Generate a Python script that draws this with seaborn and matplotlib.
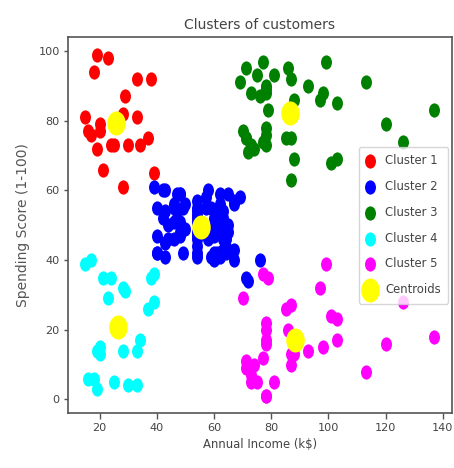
import matplotlib
matplotlib.use("Agg")
import matplotlib.pyplot as plt
from matplotlib import font_manager
from matplotlib.path import Path
from matplotlib.transforms import Affine2D
import seaborn as sns

# Mall customers: annual income (k$) and spending score, split by K-means cluster
c1_income = [15, 16, 17, 18, 19, 19, 20, 20, 21, 23, 24, 25, 28, 28, 29, 30, 33, 33, 34, 37, 38, 39]
c1_score = [81, 77, 76, 94, 72, 99, 77, 79, 66, 98, 73, 73, 82, 61, 87, 73, 92, 81, 73, 75, 92, 65]

c2_income = [39, 40, 40, 40, 40, 42, 42, 43, 43, 43, 43, 44, 44, 46, 46, 46, 46, 47, 47,
             48, 48, 48, 48, 48, 48, 49, 49, 50, 50, 54, 54, 54, 54, 54, 54, 54, 54, 54,
             54, 54, 54, 57, 57, 58, 58, 59, 59, 60, 60, 60, 60, 60, 60, 61, 61, 62, 62,
             62, 62, 62, 62, 63, 63, 63, 63, 63, 63, 64, 64, 65, 65, 65, 65, 67, 67, 67,
             67, 69, 71, 72, 76]
c2_score = [61, 55, 47, 42, 42, 52, 60, 54, 60, 45, 41, 50, 46, 51, 46, 56, 55, 52, 59,
            51, 59, 50, 48, 59, 47, 55, 42, 49, 56, 47, 54, 53, 48, 52, 42, 51, 55, 41,
            44, 57, 46, 58, 55, 60, 46, 55, 41, 49, 40, 42, 52, 47, 50, 42, 49, 41, 48,
            59, 55, 56, 42, 50, 46, 43, 48, 52, 54, 42, 46, 48, 50, 43, 59, 43, 57, 56,
            40, 58, 35, 34, 40]

c3_income = [69, 70, 71, 71, 71, 72, 73, 73, 74, 75, 76, 77, 77, 78, 78, 78, 78, 78, 78,
             79, 81, 85, 86, 87, 87, 87, 88, 88, 93, 97, 98, 99, 101, 103, 103, 113, 120,
             126, 137]
c3_score = [91, 77, 95, 75, 75, 71, 88, 73, 72, 93, 87, 97, 74, 90, 88, 76, 89, 78, 73,
            83, 93, 75, 95, 63, 75, 92, 86, 69, 90, 86, 88, 97, 68, 85, 69, 91, 79, 74, 83]

c4_income = [15, 16, 17, 18, 19, 19, 20, 20, 21, 23, 24, 25, 28, 28, 29, 30, 33, 33, 34, 37, 38, 39, 39]
c4_score = [39, 6, 40, 6, 3, 14, 15, 13, 35, 29, 35, 5, 14, 32, 31, 4, 4, 14, 17, 26, 35, 36, 28]

c5_income = [70, 71, 71, 73, 73, 74, 75, 77, 77, 78, 78, 78, 78, 78, 78, 79, 81, 85, 86,
             87, 87, 87, 88, 88, 93, 97, 98, 99, 101, 103, 103, 113, 120, 126, 137]
c5_score = [29, 11, 9, 5, 7, 10, 5, 12, 36, 22, 17, 20, 16, 1, 1, 35, 5, 26, 20, 27, 13,
            10, 13, 15, 14, 32, 15, 39, 24, 17, 23, 8, 16, 28, 18]

centroid_income = [25.73, 55.30, 86.54, 26.30, 88.20]
centroid_score = [79.36, 49.52, 82.13, 20.91, 17.11]

clusters = [
    (c1_income, c1_score, "red", "Cluster 1"),
    (c2_income, c2_score, "blue", "Cluster 2"),
    (c3_income, c3_score, "green", "Cluster 3"),
    (c4_income, c4_score, "cyan", "Cluster 4"),
    (c5_income, c5_score, "magenta", "Cluster 5"),
]

# Narrow face for horizontal text; fall back to a smaller DejaVu if missing
installed = {f.name for f in font_manager.fontManager.ttflist}
if "Liberation Sans Narrow" in installed:
    text_font, k = "Liberation Sans Narrow", 1.0
else:
    text_font, k = "DejaVu Sans", 0.74
text_color = "#444444"

# Slightly upright oval markers
oval = Path.unit_circle().transformed(Affine2D().scale(0.77, 1.0))

fig = plt.figure(figsize=(4.54, 4.68), dpi=100)
ax = fig.add_axes([0.1498, 0.1175, 0.845, 0.8024])

for xs, ys, col, lab in clusters:
    sns.scatterplot(x=xs, y=ys, color=col, s=105, marker=oval, linewidth=0,
                    label=lab, ax=ax)
sns.scatterplot(x=centroid_income, y=centroid_score, color="yellow", s=300,
                marker=oval, linewidth=0, label="Centroids", ax=ax)

ax.set_title("Clusters of customers", fontsize=13.5 * k, family=text_font,
             color=text_color, pad=6)
ax.set_xlabel("Annual Income (k$)", fontsize=11.3 * k, family=text_font,
              color=text_color, labelpad=3)
ax.set_ylabel("Spending Score (1-100)", fontsize=10.0, family="DejaVu Sans",
              color="#555555", labelpad=6)

for lbl in ax.get_xticklabels() + ax.get_yticklabels():
    lbl.set_family(text_font)
    lbl.set_fontsize(11 * k)
    lbl.set_color(text_color)
ax.tick_params(axis="x", length=4.5, width=1, color="#555555", pad=3)
ax.tick_params(axis="y", length=3, width=1, color="#555555", pad=3)
for sp in ax.spines.values():
    sp.set_color("#555555")
    sp.set_linewidth(1.2)

leg = ax.legend(loc="center right", prop={"family": text_font, "size": 11.3 * k},
                handlelength=0.6, handletextpad=1.0, borderpad=0.65,
                labelspacing=1.1, borderaxespad=0.3, framealpha=0.8,
                edgecolor="#cccccc")
for t in leg.get_texts():
    t.set_color(text_color)

fig.savefig("out.png", dpi=100)
